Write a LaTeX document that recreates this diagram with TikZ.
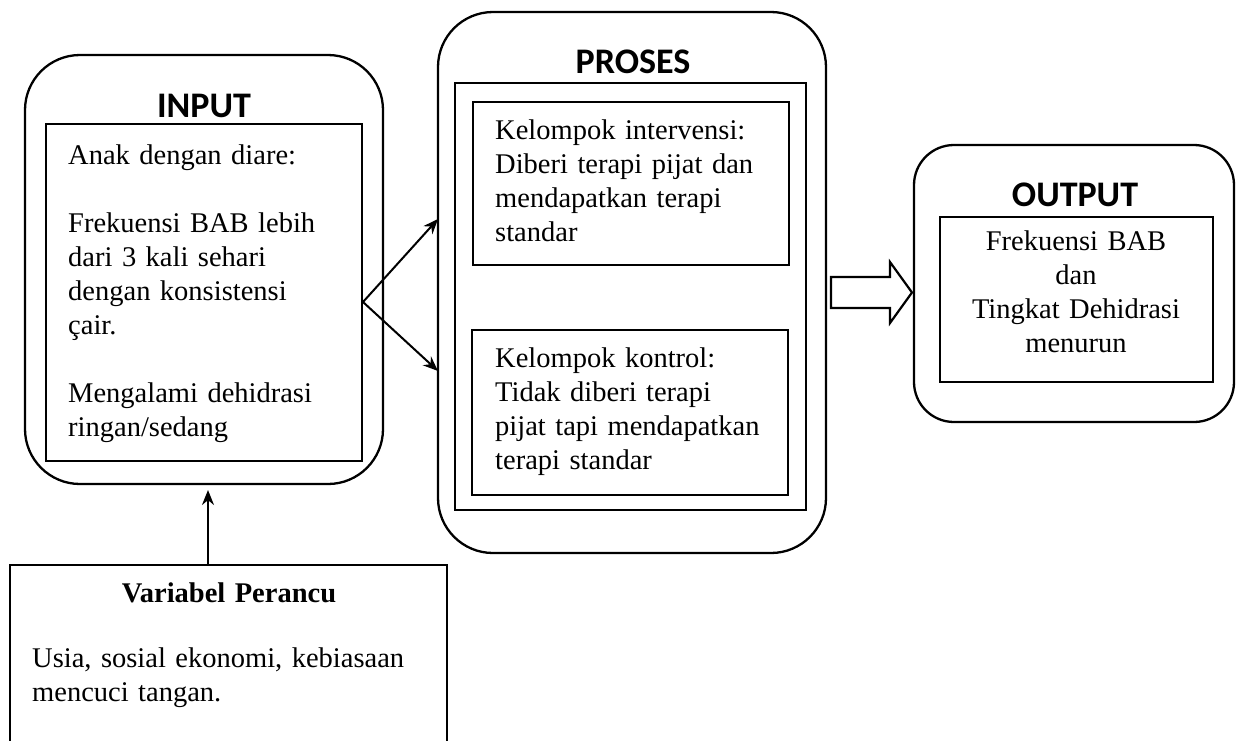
\documentclass[tikz,border=0pt]{standalone}
\usepackage{fontspec}
\setmainfont{Liberation Serif}
\newfontfamily\titlefont{Carlito}
\usetikzlibrary{arrows.meta}
\begin{document}
\begin{tikzpicture}[x=1pt,y=-1pt,
  outerbox/.style={draw, line width=2.3pt, inner sep=0pt, outer sep=0pt},
  innerbox/.style={draw, line width=2pt, inner sep=0pt, outer sep=0pt},
  ttl/.style={font=\titlefont\bfseries\fontsize{36pt}{40pt}\selectfont, inner sep=0pt},
  body/.style={font=\fontsize{28.5pt}{34pt}\selectfont, inner sep=0pt, anchor=base west, align=left},
  bodyc/.style={font=\fontsize{28.5pt}{34pt}\selectfont, inner sep=0pt, anchor=base, align=center},
  conn/.style={line width=2pt, -{Stealth[length=15pt,width=12pt]}},
  hollow/.style={draw, line width=2.2pt, line join=miter}]
\useasboundingbox (0,0) rectangle (1240,740);

% INPUT
\node[outerbox, rounded corners=55pt, minimum width=358pt, minimum height=429pt] (inout) at (204,269.5) {};
\node[innerbox, minimum width=316pt, minimum height=337pt] (inin) at (204,292.5) {};
\node[ttl] (inttl) at (204,106) {INPUT};
\node[body, text width=290pt] (intxt) at (68,164) {Anak dengan diare:\\ \mbox{}\\ Frekuensi BAB lebih\\ dari 3 kali sehari\\ dengan konsistensi\\ çair.\\ \mbox{}\\ Mengalami dehidrasi\\ ringan/sedang};

% PROSES
\node[outerbox, rounded corners=55pt, minimum width=388pt, minimum height=541pt] (pout) at (632,282.5) {};
\node[innerbox, minimum width=351pt, minimum height=427pt] (pin) at (630.5,296.5) {};
\node[ttl] (pttl) at (633,62) {PROSES};
\node[innerbox, minimum width=316pt, minimum height=163pt] (interv) at (631,183.5) {};
\node[body, text width=290pt] (intervtxt) at (495,139) {Kelompok intervensi:\\ Diberi terapi pijat dan\\ mendapatkan terapi\\ standar};
\node[innerbox, minimum width=316pt, minimum height=165pt] (kontrol) at (630,412.5) {};
\node[body, text width=290pt] (kontroltxt) at (495,367) {Kelompok kontrol:\\ Tidak diberi terapi\\ pijat tapi mendapatkan\\ terapi standar};

% OUTPUT
\node[outerbox, rounded corners=40pt, minimum width=320pt, minimum height=277pt] (oout) at (1074,283.5) {};
\node[innerbox, minimum width=273pt, minimum height=165pt] (oin) at (1076.5,299.5) {};
\node[ttl] (ottl) at (1075,195) {OUTPUT};
\node[bodyc, text width=260pt] (otxt) at (1076,250) {Frekuensi BAB\\ dan\\ Tingkat Dehidrasi\\ menurun};

% Variabel Perancu
\node[innerbox, minimum width=437pt, minimum height=195pt] (var) at (228.5,662.5) {};
\node[bodyc, font=\bfseries\fontsize{28.5pt}{34pt}\selectfont, text width=400pt] (varttl) at (229,602) {Variabel Perancu};
\node[body, text width=410pt] (vartxt) at (32,667) {Usia, sosial ekonomi, kebiasaan\\ mencuci tangan.};

% connectors
\coordinate (split) at (363,302);
\coordinate (t1) at (438,219);
\coordinate (t2) at (438,371);
\draw[conn] (split) -- (t1);
\draw[conn] (split) -- (t2);
\coordinate (vs) at (208,565);
\draw[conn] (vs) -- ([yshift=-6pt]inout.south -| vs);

% hollow block arrow
\draw[hollow] (831,277) -- (890,277) -- (890,262) -- (912,292.5) -- (890,323) -- (890,308) -- (831,308) -- cycle;
\end{tikzpicture}
\end{document}
